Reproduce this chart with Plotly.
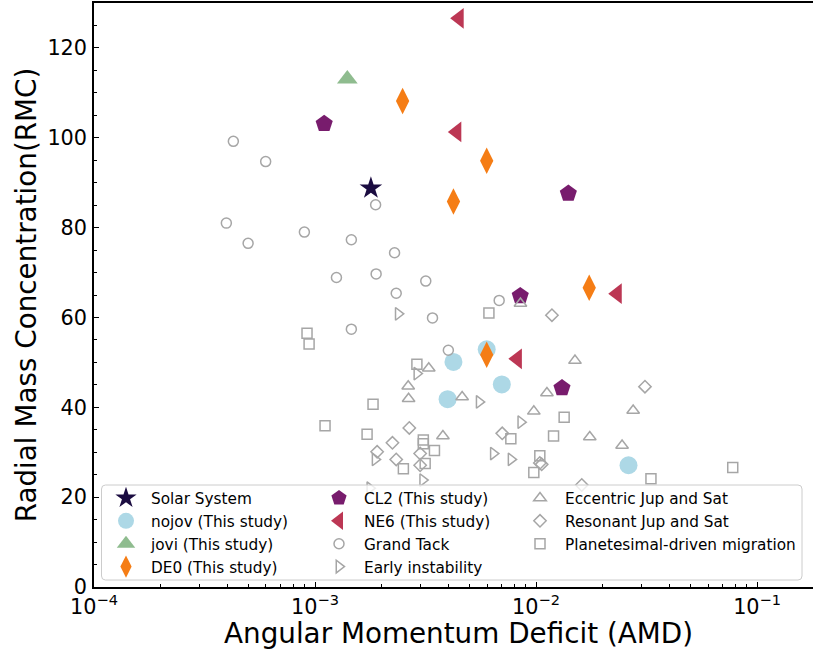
import plotly.graph_objects as go

# ---- data: Angular Momentum Deficit (AMD) vs Radial Mass Concentration (RMC) ----
solar_amd = [1.79e-3]
solar_rmc = [88.8]

nojov_amd = [4.23e-3, 3.98e-3, 5.98e-3, 7.00e-3, 2.62e-2]
nojov_rmc = [50.1, 41.8, 52.9, 45.1, 27.1]

jovi_amd = [1.40e-3]
jovi_rmc = [113.1]

de0_amd = [2.49e-3, 5.98e-3, 4.23e-3, 1.74e-2, 5.98e-3]
de0_rmc = [108.2, 94.9, 85.8, 66.6, 51.7]

cl2_amd = [1.10e-3, 1.40e-2, 8.48e-3, 1.31e-2]
cl2_rmc = [103.1, 87.6, 64.8, 44.3]

ne6_amd = [4.49e-3, 4.38e-3, 2.33e-2, 8.23e-3]
ne6_rmc = [126.6, 101.3, 65.3, 50.8]

grand_tack_amd = [4.27e-4, 5.98e-4, 1.88e-3, 3.97e-4, 4.98e-4, 8.95e-4, 1.46e-3, 2.29e-3,
                  1.25e-3, 1.89e-3, 3.17e-3, 2.33e-3, 3.40e-3, 1.46e-3, 4.01e-3, 6.81e-3]
grand_tack_rmc = [99.2, 94.7, 85.1, 81.0, 76.5, 79.0, 77.3, 74.4,
                  68.9, 69.7, 68.1, 65.4, 59.9, 57.4, 52.7, 63.8]

early_amd = [2.38e-3, 2.89e-3, 1.87e-3, 3.07e-3, 1.77e-3, 5.53e-3, 8.53e-3, 6.41e-3, 7.71e-3]
early_rmc = [60.8, 47.5, 28.4, 23.8, 22.0, 41.2, 36.7, 29.7, 28.4]

eccentric_amd = [3.27e-3, 2.64e-3, 2.65e-3, 3.79e-3, 8.50e-3, 1.50e-2, 4.63e-3, 1.12e-2,
                 9.77e-3, 2.75e-2, 1.75e-2, 2.45e-2]
eccentric_rmc = [48.7, 44.7, 41.9, 33.6, 63.1, 50.4, 42.3, 43.2,
                 39.1, 39.3, 33.4, 31.5]

resonant_amd = [2.67e-3, 2.24e-3, 1.91e-3, 2.33e-3, 2.99e-3, 2.99e-3, 1.18e-2, 3.11e-2,
                7.03e-3, 1.04e-2, 1.06e-2, 1.61e-2]
resonant_rmc = [35.4, 32.1, 30.1, 28.4, 29.7, 27.1, 60.5, 44.6,
                34.2, 27.6, 27.3, 22.7]

planetesimal_amd = [9.2e-4, 9.4e-4, 2.89e-3, 1.83e-3, 1.11e-3, 1.72e-3, 3.09e-3, 3.09e-3,
                    3.47e-3, 2.51e-3, 3.15e-3, 6.12e-3, 1.34e-2, 7.69e-3, 1.20e-2, 1.04e-2,
                    9.77e-3, 3.31e-2, 7.76e-2]
planetesimal_rmc = [56.5, 54.1, 49.6, 40.7, 35.9, 34.0, 32.7, 31.9,
                    30.4, 26.3, 27.5, 61.0, 37.8, 33.0, 33.6, 29.2,
                    25.5, 24.1, 26.6]

x_tick_values = [1e-4, 1e-3, 1e-2, 1e-1]
x_tick_text = ["10<sup>−4</sup>", "10<sup>−3</sup>", "10<sup>−2</sup>", "10<sup>−1</sup>"]
y_tick_values = [0, 20, 40, 60, 80, 100, 120]

# ---- figure geometry (pixels) ----
W, H = 813, 652
ML, MR, MT, MB = 94, 0, 3, 65
PW, PH = W - ML - MR, H - MT - MB


def px_x(px):
    return (px - ML) / PW


def px_y(py):
    return (H - MB - py) / PH


FONT = "DejaVu Sans"
GRAY = "#a6a6a6"

fig = go.Figure()


def filled(name, xs, ys, symbol, size, color, legend):
    fig.add_trace(go.Scatter(
        x=xs, y=ys, mode="markers", name=name, legend=legend,
        marker=dict(symbol=symbol, size=size, color=color, line=dict(width=0)),
    ))


def hollow(name, xs, ys, symbol, size, legend):
    fig.add_trace(go.Scatter(
        x=xs, y=ys, mode="markers", name=name, legend=legend,
        marker=dict(symbol=symbol, size=size, color=GRAY, line=dict(width=1.5, color=GRAY)),
    ))


filled("Solar System", solar_amd, solar_rmc, "star", 17, "#1b0c41", "legend")
filled("nojov (This study)", nojov_amd, nojov_rmc, "circle", 18, "#add8e6", "legend")
filled("jovi (This study)", jovi_amd, jovi_rmc, "triangle-up", 18, "#8fbc8f", "legend")
filled("DE0 (This study)", de0_amd, de0_rmc, "diamond-tall", 19, "#f57d15", "legend")
filled("CL2 (This study)", cl2_amd, cl2_rmc, "pentagon", 18, "#781c6d", "legend2")
filled("NE6 (This study)", ne6_amd, ne6_rmc, "triangle-left", 18, "#bc3754", "legend2")
hollow("Grand Tack", grand_tack_amd, grand_tack_rmc, "circle-open", 10, "legend2")
hollow("Early instability", early_amd, early_rmc, "triangle-right-open", 11, "legend2")
hollow("Eccentric Jup and Sat", eccentric_amd, eccentric_rmc, "triangle-up-open", 11, "legend3")
hollow("Resonant Jup and Sat", resonant_amd, resonant_rmc, "diamond-open", 9.5, "legend3")
hollow("Planetesimal-driven migration", planetesimal_amd, planetesimal_rmc, "square-open", 10, "legend3")

# legend frame: rounded box, semi-transparent white
x0, x1 = px_x(101.5), px_x(802)
y0, y1 = px_y(580), px_y(485)
rx, ry = 4 / PW, 4 / PH
frame = (f"M{x0 + rx},{y0} L{x1 - rx},{y0} Q{x1},{y0} {x1},{y0 + ry} "
         f"L{x1},{y1 - ry} Q{x1},{y1} {x1 - rx},{y1} L{x0 + rx},{y1} "
         f"Q{x0},{y1} {x0},{y1 - ry} L{x0},{y0 + ry} Q{x0},{y0} {x0 + rx},{y0} Z")
fig.add_shape(type="path", path=frame, xref="paper", yref="paper", layer="above",
              fillcolor="rgba(255,255,255,0.8)", line=dict(color="#cccccc", width=1))

leg_font = dict(family=FONT, size=15.3, color="black")
leg_common = dict(bgcolor="rgba(0,0,0,0)", borderwidth=0, font=leg_font, itemwidth=40,
                  xanchor="left", yanchor="top", tracegroupgap=0, itemclick=False)

minor_x = [m * 10.0 ** e for e in range(-4, 0) for m in range(2, 10)]

fig.update_layout(
    width=W, height=H,
    margin=dict(l=ML, r=MR, t=MT, b=MB),
    paper_bgcolor="white", plot_bgcolor="white",
    font=dict(family=FONT, color="black"),
    legend=dict(x=px_x(101), y=px_y(481.5), **leg_common),
    legend2=dict(x=px_x(314), y=px_y(481.5), **leg_common),
    legend3=dict(x=px_x(515), y=px_y(481.5), **leg_common),
    xaxis=dict(
        type="log", range=[-4, -0.747],
        tickvals=x_tick_values, ticktext=x_tick_text,
        showgrid=False, zeroline=False,
        showline=True, linecolor="black", linewidth=1.5, mirror=True,
        ticks="inside", ticklen=5, tickwidth=1.2, tickcolor="black",
        tickfont=dict(family=FONT, size=20.8, color="black"),
        minor=dict(ticks="inside", ticklen=3, tickwidth=1, tickcolor="black", tickvals=minor_x),
    ),
    yaxis=dict(
        range=[0, 130], tickvals=y_tick_values,
        showgrid=False, zeroline=False,
        showline=True, linecolor="black", linewidth=1.5,
        ticks="inside", ticklen=5, tickwidth=1.2, tickcolor="black",
        tickfont=dict(family=FONT, size=20.8, color="black"),
        ticklabelstandoff=1,
        minor=dict(ticks="inside", ticklen=3, tickwidth=1, tickcolor="black", dtick=5, tick0=0),
        title=dict(text="Radial Mass Concentration(RMC)",
                   font=dict(family=FONT, size=27.8, color="black"), standoff=3),
    ),
)

fig.add_annotation(text="Angular Momentum Deficit (AMD)", xref="paper", yref="paper",
                   x=px_x(458.5), y=px_y(633), xanchor="center", yanchor="middle",
                   showarrow=False, font=dict(family=FONT, size=27.8, color="black"))

fig.write_html("out.html")
